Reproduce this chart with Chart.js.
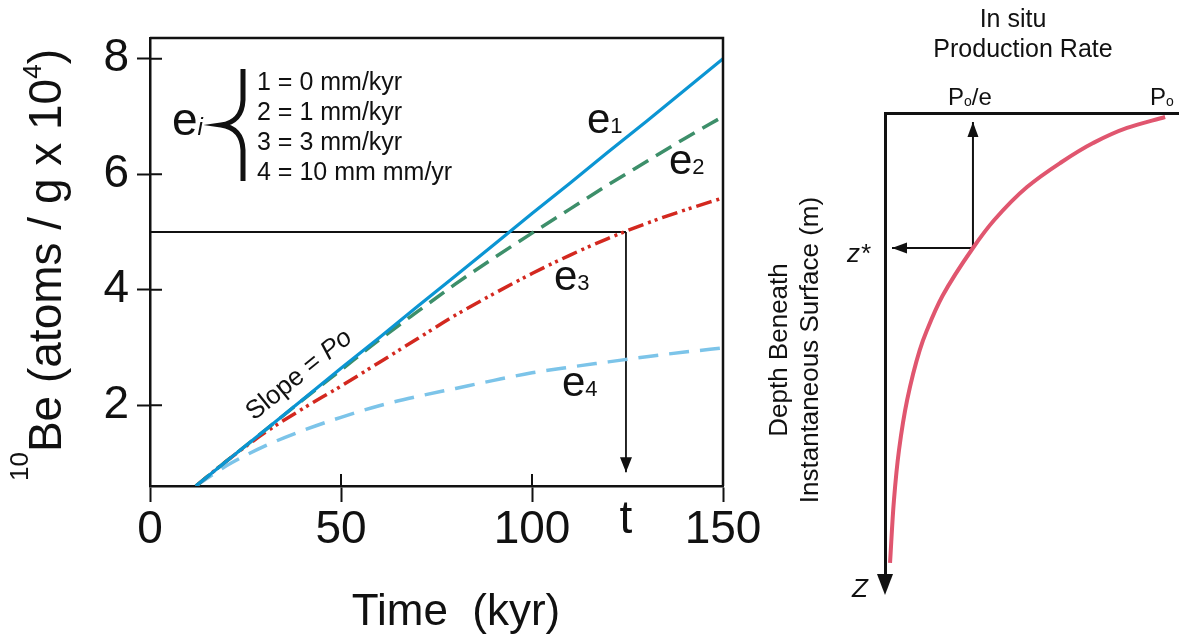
<!DOCTYPE html>
<html>
<head>
<meta charset="utf-8">
<script src="https://cdn.jsdelivr.net/npm/chart.js@4.4.1/dist/chart.umd.min.js"></script>
<style>
  body { margin: 0; background: #fff; }
  #wrap { position: relative; width: 1182px; height: 640px; }
  canvas { position: absolute; left: 0; top: 0; }
</style>
</head>
<body>
<div id="wrap">
  <canvas id="beChart" width="1182" height="640"></canvas>
  <canvas id="rateChart" width="1182" height="640"></canvas>
</div>
<script>
// left panel: 10Be build-up for four erosion rates
const timeKyr = [12, 20, 30, 40, 50, 60, 70, 80, 90, 100, 110, 120, 130, 140, 150];
const e1Values = [0.6, 1.03, 1.56, 2.10, 2.64, 3.17, 3.71, 4.24, 4.78, 5.32, 5.85, 6.39, 6.92, 7.46, 8.0];
const e2Values = [0.6, 1.03, 1.56, 2.09, 2.61, 3.13, 3.62, 4.10, 4.55, 4.98, 5.40, 5.82, 6.22, 6.62, 7.0];
const e3Values = [0.6, 1.03, 1.52, 1.94, 2.33, 2.74, 3.15, 3.56, 3.93, 4.28, 4.60, 4.89, 5.15, 5.38, 5.59];
const e4Values = [0.6, 0.95, 1.29, 1.56, 1.79, 1.99, 2.15, 2.29, 2.43, 2.56, 2.66, 2.75, 2.84, 2.92, 2.99];
const guideTime = [0, 124.6];
const guideValue = [5.0, 5.0];
const arrowTime = [124.6, 124.6];
const arrowValue = [5.0, 0.84];
const xTicks = [0, 50, 100, 150];
const yTicks = [2, 4, 6, 8];
const rateLines = ['1 = 0 mm/kyr', '2 = 1 mm/kyr', '3 = 3 mm/kyr', '4 = 10 mm mm/yr'];

// right panel: production rate (fraction of Po) vs depth
const productionRate = [1.0, 0.864, 0.743, 0.625, 0.507, 0.39, 0.314, 0.205, 0.15, 0.124, 0.079, 0.05, 0.032, 0.018];
const depth = [0.036, 0.136, 0.273, 0.455, 0.673, 0.973, 1.227, 1.664, 1.973, 2.155, 2.609, 3.064, 3.518, 4.09];
const zStar = 1.227;
const poOverE = 0.314;

const FONT = '"Liberation Sans", Arial, sans-serif';
Chart.defaults.font.family = FONT;
Chart.defaults.color = '#111';

const pts = (xs, ys) => xs.map((x, i) => ({ x: x, y: ys[i] }));

function runs(ctx, parts, x, y) {
  parts.forEach(([text, size, dy, style]) => {
    ctx.font = `${style || ''} ${size}px ${FONT}`;
    ctx.fillText(text, x, y + (dy || 0));
    x += ctx.measureText(text).width;
  });
  return x;
}

function arrowHeads(chart, len, half) {
  const ctx = chart.ctx;
  chart.data.datasets.forEach((ds, i) => {
    if (!ds.arrow) return;
    const p = chart.getDatasetMeta(i).data;
    const a = p[p.length - 2], b = p[p.length - 1];
    ctx.save();
    ctx.translate(b.x, b.y);
    ctx.rotate(Math.atan2(b.y - a.y, b.x - a.x));
    ctx.beginPath();
    ctx.moveTo(0, 0);
    ctx.lineTo(-len, -half);
    ctx.lineTo(-len, half);
    ctx.closePath();
    ctx.fillStyle = '#111';
    ctx.fill();
    ctx.restore();
  });
}

const leftDecor = {
  id: 'leftDecor',
  afterDraw(chart) {
    const ctx = chart.ctx;
    const { left, right, top, bottom } = chart.chartArea;
    const xs = chart.scales.x, ys = chart.scales.y;
    ctx.save();
    ctx.strokeStyle = '#111';
    // top and right frame
    ctx.lineWidth = 2.5;
    ctx.beginPath();
    ctx.moveTo(left, top);
    ctx.lineTo(right, top);
    ctx.lineTo(right, bottom);
    ctx.stroke();
    // inner halves of the ticks
    ctx.lineWidth = 2;
    ctx.beginPath();
    xs.ticks.forEach(t => {
      const px = xs.getPixelForValue(t.value);
      ctx.moveTo(px, bottom);
      ctx.lineTo(px, bottom - 12);
    });
    ys.ticks.forEach(t => {
      const py = ys.getPixelForValue(t.value);
      ctx.moveTo(left, py);
      ctx.lineTo(left + 12, py);
    });
    ctx.stroke();

    arrowHeads(chart, 15, 6);

    ctx.fillStyle = '#111';
    ctx.textBaseline = 'alphabetic';
    ctx.textAlign = 'left';

    // y title
    ctx.save();
    ctx.translate(61, 481);
    ctx.rotate(-Math.PI / 2);
    runs(ctx, [['10', 26, -33], ['Be', 46], [' (atoms / g x 10', 46], ['4', 26, -20], [')', 46]], 0, 0);
    ctx.restore();

    // x title
    ctx.textAlign = 'center';
    ctx.font = `44px ${FONT}`;
    ctx.fillText('Time  (kyr)', 456, 625);
    ctx.font = `46px ${FONT}`;
    ctx.fillText('t', xs.getPixelForValue(arrowTime[0]), 533);
    ctx.textAlign = 'left';

    // erosion rate key
    runs(ctx, [['e', 46], ['i', 24, 0, 'italic']], 172, 135);
    ctx.lineWidth = 5;
    ctx.beginPath();
    ctx.moveTo(243, 69);
    ctx.lineTo(243, 100);
    ctx.quadraticCurveTo(242, 122, 221, 125);
    ctx.quadraticCurveTo(242, 128, 243, 150);
    ctx.lineTo(243, 181);
    ctx.stroke();
    ctx.font = `25px ${FONT}`;
    rateLines.forEach((s, i) => ctx.fillText(s, 257, 89.5 + i * 30.3));

    // curve labels
    runs(ctx, [['e', 42], ['1', 22]], 587, 133);
    runs(ctx, [['e', 42], ['2', 22]], 669, 174);
    runs(ctx, [['e', 42], ['3', 22]], 554, 290);
    runs(ctx, [['e', 42], ['4', 22]], 562, 396);

    // slope note
    ctx.save();
    ctx.translate(254, 421);
    ctx.rotate(-39 * Math.PI / 180);
    runs(ctx, [['Slope = ', 26], ['Po', 26, 0, 'italic']], 0, 0);
    ctx.restore();
    ctx.restore();
  }
};

const tickFont = { size: 46 };

new Chart(document.getElementById('beChart'), {
  type: 'line',
  data: {
    datasets: [
      { data: pts(timeKyr, e1Values), borderColor: '#0b95d3', borderWidth: 3.2, tension: 0 },
      { data: pts(timeKyr, e2Values), borderColor: '#3d8f6a', borderWidth: 3.5, borderDash: [18, 9], cubicInterpolationMode: 'monotone' },
      { data: pts(timeKyr, e3Values), borderColor: '#d3281f', borderWidth: 3.5, borderDash: [16, 5, 3, 4, 3, 5], cubicInterpolationMode: 'monotone' },
      { data: pts(timeKyr, e4Values), borderColor: '#7cc4e9', borderWidth: 3.5, borderDash: [20, 11], cubicInterpolationMode: 'monotone' },
      { data: pts(guideTime, guideValue), borderColor: '#111', borderWidth: 1.8, tension: 0 },
      { data: pts(arrowTime, arrowValue), borderColor: '#111', borderWidth: 1.8, tension: 0, arrow: true }
    ]
  },
  options: {
    responsive: false,
    animation: false,
    events: [],
    elements: { point: { radius: 0 } },
    layout: { padding: { left: 0, top: 38, right: 459, bottom: 0 } },
    plugins: { legend: { display: false }, tooltip: { enabled: false } },
    scales: {
      x: {
        type: 'linear',
        min: 0,
        max: 150,
        afterBuildTicks: s => { s.ticks = xTicks.map(v => ({ value: v })); },
        afterFit: s => { s.height = 154; },
        ticks: { font: tickFont, padding: 1, color: '#111' },
        grid: { drawOnChartArea: false, tickLength: 16, tickWidth: 2, tickColor: '#111' },
        border: { color: '#111', width: 2.5 }
      },
      y: {
        type: 'linear',
        min: 0.6,
        max: 8.36,
        afterBuildTicks: s => { s.ticks = yTicks.map(v => ({ value: v })); },
        afterFit: s => { s.width = 150; },
        ticks: { font: tickFont, padding: 8, color: '#111' },
        grid: { drawOnChartArea: false, tickLength: 13, tickWidth: 2, tickColor: '#111' },
        border: { color: '#111', width: 2.5 }
      }
    }
  },
  plugins: [leftDecor]
});

const rightDecor = {
  id: 'rightDecor',
  afterDraw(chart) {
    const ctx = chart.ctx;
    const { left, bottom } = chart.chartArea;
    ctx.save();
    // arrow at the bottom of the depth axis
    ctx.fillStyle = '#111';
    ctx.beginPath();
    ctx.moveTo(left, bottom + 15);
    ctx.lineTo(left - 8, bottom - 6);
    ctx.lineTo(left + 8, bottom - 6);
    ctx.closePath();
    ctx.fill();

    arrowHeads(chart, 15, 5.5);

    ctx.textBaseline = 'alphabetic';
    ctx.textAlign = 'center';
    ctx.font = `25px ${FONT}`;
    ctx.fillText('In situ', 1013, 27);
    ctx.fillText('Production Rate', 1023, 57);
    ctx.textAlign = 'left';
    runs(ctx, [['P', 24], ['o', 14, 1], ['/e', 24]], 948, 105);
    runs(ctx, [['P', 24], ['o', 14, 1]], 1150, 105);
    ctx.font = `italic 26px ${FONT}`;
    ctx.fillText('z*', 847, 262);
    ctx.fillText('Z', 852, 597);

    ctx.save();
    ctx.translate(0, 350);
    ctx.rotate(-Math.PI / 2);
    ctx.textAlign = 'center';
    ctx.font = `26px ${FONT}`;
    ctx.fillText('Depth Beneath', 0, 787);
    ctx.fillText('Instantaneous Surface (m)', 0, 818);
    ctx.restore();
    ctx.restore();
  }
};

new Chart(document.getElementById('rateChart'), {
  type: 'line',
  data: {
    datasets: [
      { data: pts(productionRate, depth), borderColor: '#e0566f', borderWidth: 4, cubicInterpolationMode: 'monotone', indexAxis: 'y' },
      { data: pts([poOverE, poOverE], [zStar, 0.082]), borderColor: '#111', borderWidth: 2, arrow: true },
      { data: pts([poOverE, 0.025], [zStar, zStar]), borderColor: '#111', borderWidth: 2, arrow: true }
    ]
  },
  options: {
    responsive: false,
    animation: false,
    events: [],
    elements: { point: { radius: 0 } },
    layout: { padding: { left: 885, top: 113, right: 4, bottom: 60 } },
    plugins: { legend: { display: false }, tooltip: { enabled: false } },
    scales: {
      x: {
        type: 'linear',
        position: 'top',
        min: 0,
        max: 1.046,
        afterFit: s => { s.height = 0; },
        ticks: { display: false },
        grid: { display: false, drawTicks: false },
        border: { color: '#111', width: 3 }
      },
      y: {
        type: 'linear',
        reverse: true,
        min: 0,
        max: 4.245,
        afterFit: s => { s.width = 0; },
        ticks: { display: false },
        grid: { display: false, drawTicks: false },
        border: { color: '#111', width: 3 }
      }
    }
  },
  plugins: [rightDecor]
});
</script>
</body>
</html>
